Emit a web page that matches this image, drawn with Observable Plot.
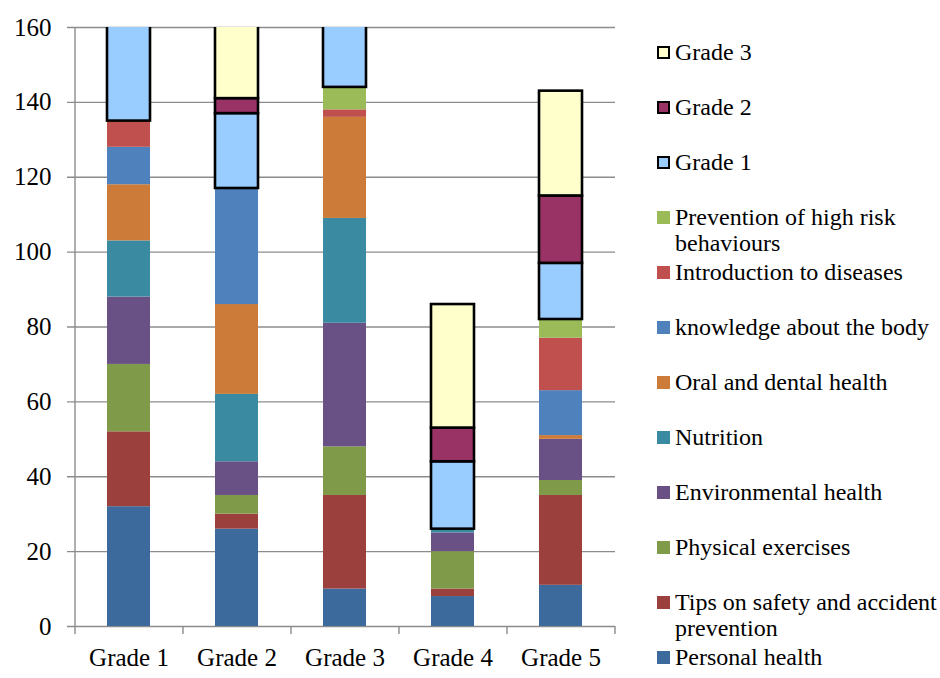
<!DOCTYPE html>
<html>
<head>
<meta charset="utf-8">
<script src="https://cdn.jsdelivr.net/npm/d3@7"></script>
<script src="https://cdn.jsdelivr.net/npm/@observablehq/plot@0.6"></script>
<style>
  html, body { margin: 0; padding: 0; background: #fff; }
  #wrap { position: relative; width: 940px; height: 678px; }
  #legend { position: absolute; left: 657px; top: 39px; font-size: 24px; color: #000; }
  .item { position: relative; height: 55px; }
  .sw { position: absolute; left: 0; top: 7px; width: 13px; height: 13px; box-sizing: border-box; }
  .lab { position: absolute; left: 18px; top: 0; width: 266px; line-height: 26px; white-space: normal; }
</style>
</head>
<body style="font-family:'Liberation Serif', serif">
<div id="wrap" style="font-family:'Liberation Serif', serif"><div id="legend" style="font-family:'Liberation Serif', serif"></div></div>
<script>
// Categories (x axis)
const categories = ["Grade 1", "Grade 2", "Grade 3", "Grade 4", "Grade 5"];

// Series, bottom to top in the stack
const series = [
  "Personal health",
  "Tips on safety and accident prevention",
  "Physical exercises",
  "Environmental health",
  "Nutrition",
  "Oral and dental health",
  "knowledge about the body",
  "Introduction to diseases",
  "Prevention of high risk behaviours",
  "Grade 1",
  "Grade 2",
  "Grade 3"
];

// Values per series (Grade 1..Grade 5)
const personalHealth   = [32, 26, 10, 8, 11];
const safetyTips       = [20, 4, 25, 2, 24];
const physicalExercise = [18, 5, 13, 10, 4];
const environmental    = [18, 9, 33, 5, 11];
const nutrition        = [15, 18, 28, 1, 0];
const oralDental       = [15, 24, 27, 0, 1];
const bodyKnowledge    = [10, 31, 0, 0, 12];
const diseases         = [7, 0, 2, 0, 14];
const highRisk         = [0, 0, 6, 0, 5];
const grade1Series     = [35, 20, 25, 18, 15];
const grade2Series     = [0, 4, 0, 9, 18];
const grade3Series     = [0, 30, 0, 33, 28];

const seriesValues = [personalHealth, safetyTips, physicalExercise, environmental, nutrition,
  oralDental, bodyKnowledge, diseases, highRisk, grade1Series, grade2Series, grade3Series];

const colors = ["#3D6A9C", "#9C403D", "#7F9A48", "#695185", "#3A8BA2", "#CC7B38",
  "#4F81BD", "#C0504D", "#9BBB59", "#99CCFF", "#993366", "#FFFFCC"];
const outlined = ["Grade 1", "Grade 2", "Grade 3"];

// Y tick labels
const yTicks = [0, 20, 40, 60, 80, 100, 120, 140, 160];

// Long-format table
const data = [];
series.forEach((s, si) => {
  categories.forEach((c, ci) => {
    const v = seriesValues[si][ci];
    if (v > 0) data.push({category: c, series: s, value: v, color: colors[si], outline: outlined.includes(s)});
  });
});

const serifFont = "'Liberation Serif', serif";
const grid = "#8C8C8C";
const chart = Plot.plot({
  width: 940, height: 678,
  marginLeft: 75, marginRight: 325, marginTop: 27, marginBottom: 52,
  style: {fontFamily: serifFont, fontSize: "25px", color: "#000", background: "transparent"},
  x: {domain: categories, paddingInner: 0.6, paddingOuter: 0.3, axis: null},
  y: {domain: [0, 160], axis: null},
  color: {type: "identity"},
  marks: [
    Plot.ruleY(yTicks, {y: d => d, stroke: grid, strokeWidth: 1.4, insetLeft: -8}),
    Plot.barY(data, Plot.stackY({x: "category", y: "value", z: "series", fill: "color",
      stroke: d => d.outline ? "#000" : "none", strokeWidth: 2.6, clip: true})),
    Plot.ruleX([categories[0]], {x: d => d, dx: -54, y1: 0, y2: 160, stroke: grid, strokeWidth: 1.4}),
    Plot.ruleX(categories, {x: d => d, dx: -54, y1: 0, y2: 0, insetBottom: -8, stroke: grid, strokeWidth: 1.4}),
    Plot.ruleX([categories[categories.length - 1]], {x: d => d, dx: 54, y1: 0, y2: 0, insetBottom: -8, stroke: grid, strokeWidth: 1.4}),
    Plot.text(yTicks, {y: d => d, text: d => String(d), frameAnchor: "left", dx: -24, textAnchor: "end", fontSize: 25, fontFamily: serifFont, fill: "#000"}),
    Plot.text(categories, {x: d => d, text: d => d, frameAnchor: "bottom", dy: 39, fontSize: 25, fontFamily: serifFont, fill: "#000"})
  ]
});
// Put the serif font directly on every text element as an inline style
d3.select(chart).selectAll("text").style("font-family", serifFont);
document.getElementById("wrap").insertBefore(chart, document.getElementById("legend"));

// Legend (top entry = top of stack)
const legend = d3.select("#legend");
series.map((s, i) => i).reverse().forEach(i => {
  const item = legend.append("div").attr("class", "item");
  item.append("div").attr("class", "sw")
    .style("background", colors[i])
    .style("border", outlined.includes(series[i]) ? "2px solid #000" : "none");
  item.append("div").attr("class", "lab").style("font-family", serifFont).text(series[i]);
});
</script>
</body>
</html>
